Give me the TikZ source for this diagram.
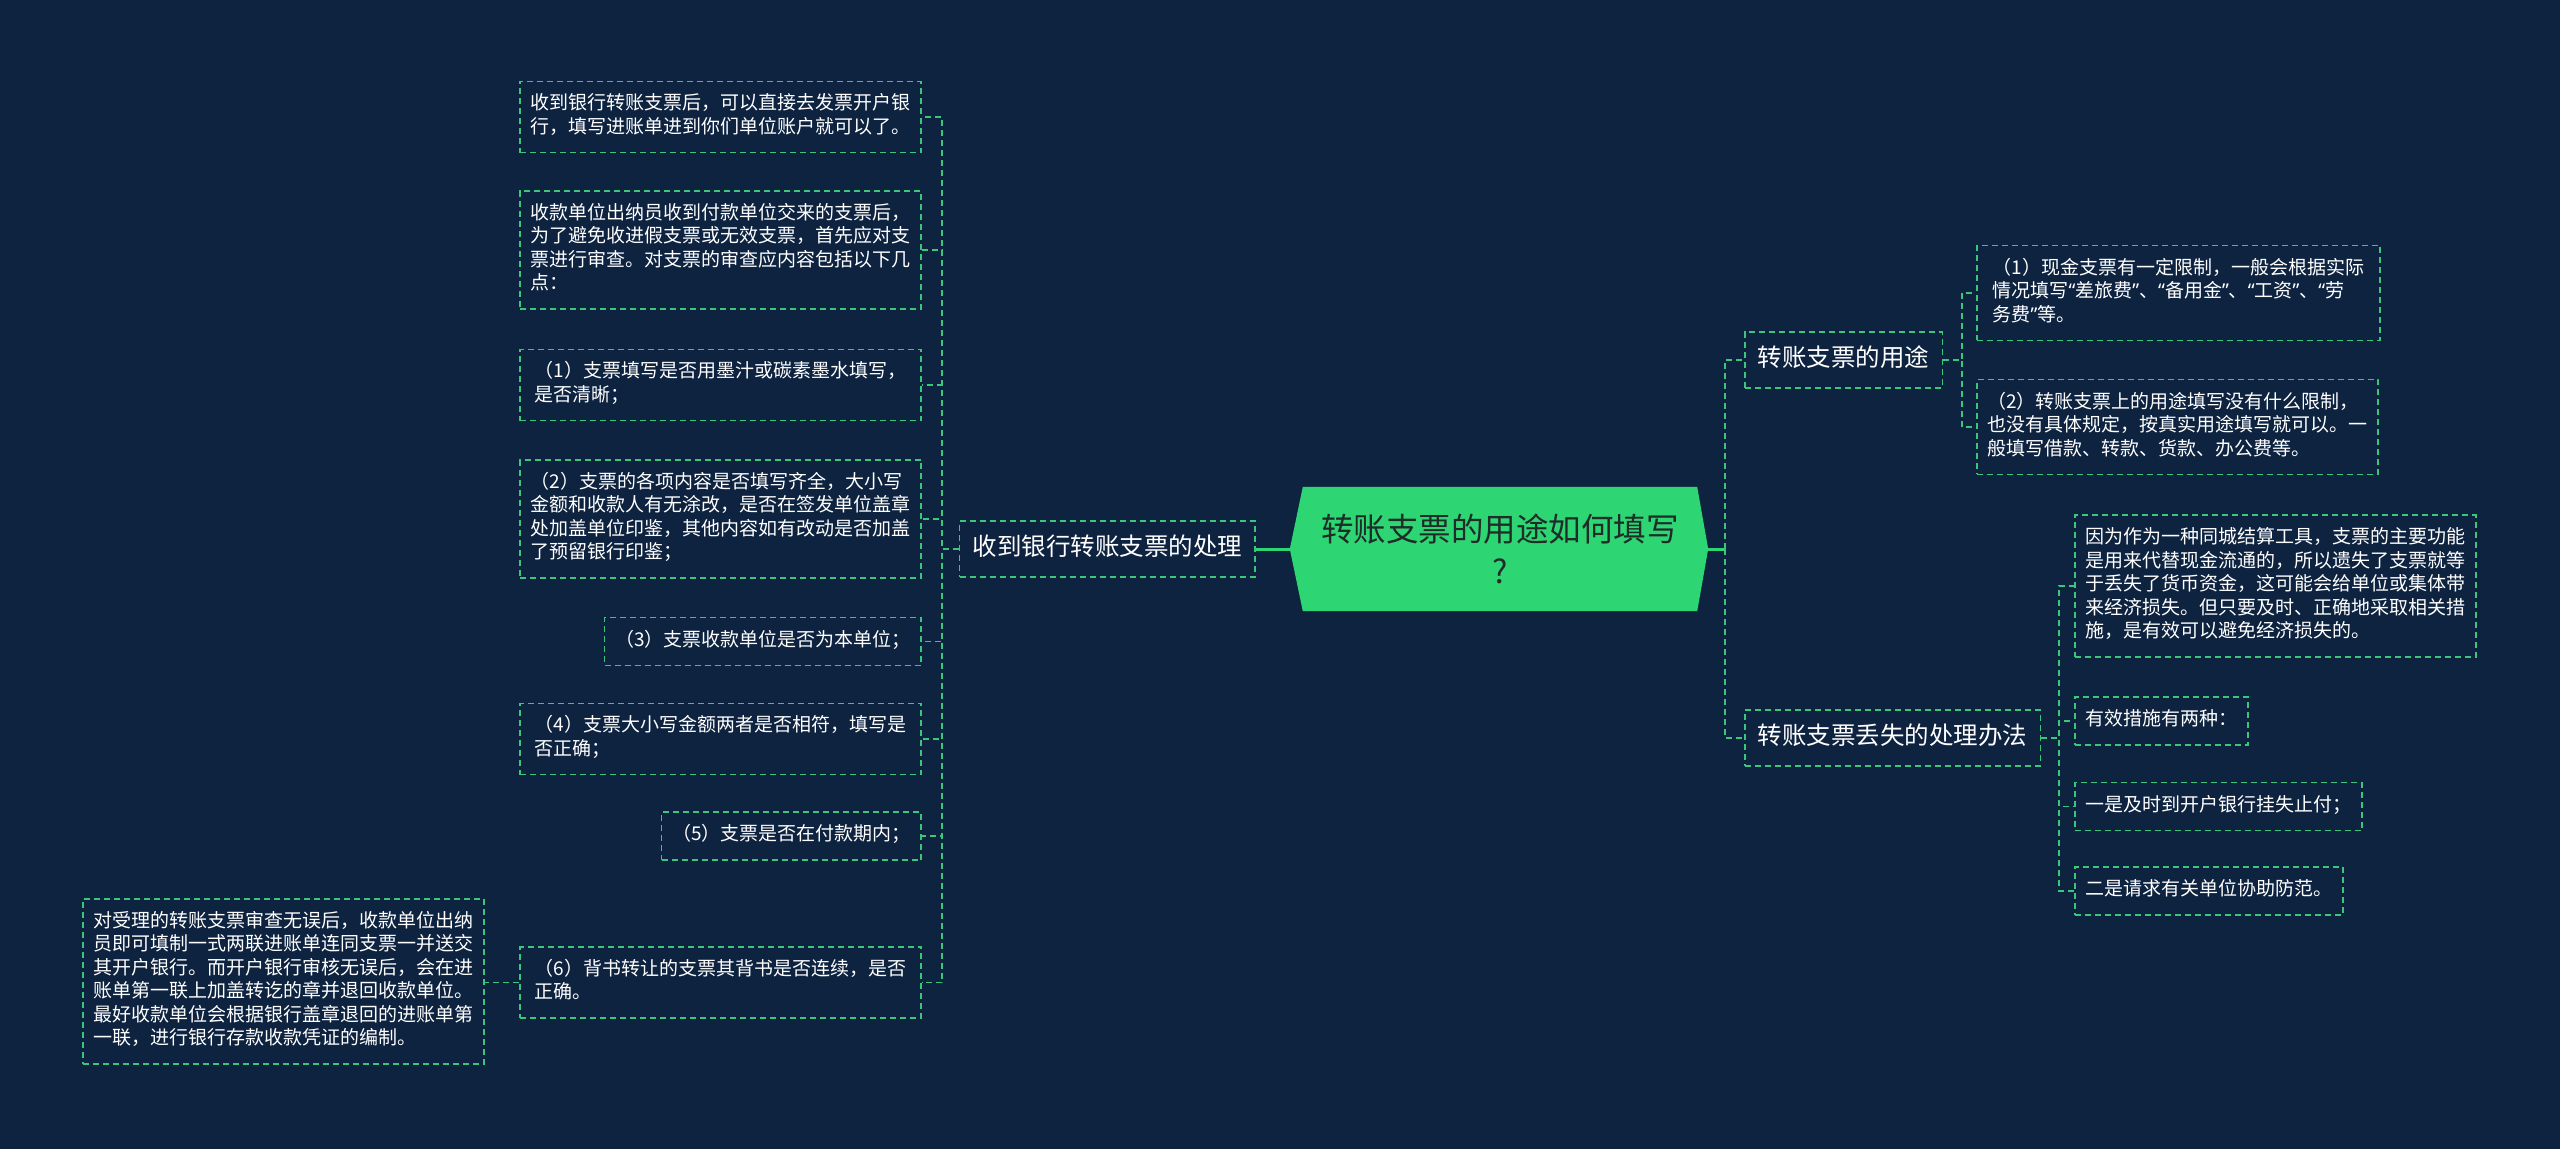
\documentclass[tikz,border=0pt]{standalone}
\usepackage{fontspec}
\newfontfamily\cjk{Noto Sans CJK SC}
\newfontfamily\quotefont{Noto Sans}
\newcommand\oq{{\quotefont “}}
\newcommand\cq{{\quotefont ”}}
\usepackage{tikz}
\usetikzlibrary{positioning,backgrounds}

\definecolor{navy}{RGB}{14,35,64}
\definecolor{leaf}{RGB}{58,199,121}
\definecolor{rootgreen}{RGB}{46,213,115}
\definecolor{rootink}{RGB}{30,45,40}

\begin{document}
\begin{tikzpicture}[x=1pt,y=-1pt,
    leafbox/.style={draw=leaf,line width=1.6pt,dash pattern=on 6pt off 4pt,
      text=white,font=\cjk\fontsize{19}{23.5}\selectfont,align=left,
      inner xsep=10.5pt,inner ysep=12.25pt,
      execute at begin node=\strut,execute at end node=\strut},
    widebox/.style={leafbox,minimum width=401pt},
    branchbox/.style={leafbox,font=\cjk\fontsize{24.5}{30}\selectfont,
      inner xsep=13pt,inner ysep=12.75pt},
    rootnode/.style={font=\cjk\fontsize{32.5}{42}\selectfont,text=rootink,
      align=center,minimum width=394pt,minimum height=124pt,inner sep=0pt},
    link/.style={leaf,line width=1.6pt,dash pattern=on 6pt off 4pt},
    stem/.style={rootgreen,line width=3pt}]
  \useasboundingbox (0,0) rectangle (2560,1149);

  % centre
  \node[rootnode] (root) at (1500,549) {转账支票的用途如何填写\\?};
  \coordinate (rootW) at ([xshift=-13pt]root.west);
  \coordinate (rootE) at ([xshift=11pt]root.east);
  \coordinate (rootbus) at ([xshift=17pt]rootE);

  % left branch
  \node[branchbox,left=47pt of root] (recv) {收到银行转账支票的处理};
  \node[leafbox,anchor=east] (recv1) at (922,117)
    {收到银行转账支票后，可以直接去发票开户银\\行，填写进账单进到你们单位账户就可以了。};
  \node[leafbox,anchor=east] (recv2) at (922,250)
    {收款单位出纳员收到付款单位交来的支票后，\\为了避免收进假支票或无效支票，首先应对支\\票进行审查。对支票的审查应内容包括以下几\\点：};
  \node[widebox,anchor=east] (recv3) at (922,385)
    {（1）支票填写是否用墨汁或碳素墨水填写，\\是否清晰；};
  \node[leafbox,anchor=east] (recv4) at (922,519)
    {（2）支票的各项内容是否填写齐全，大小写\\金额和收款人有无涂改，是否在签发单位盖章\\处加盖单位印鉴，其他内容如有改动是否加盖\\了预留银行印鉴；};
  \node[leafbox,anchor=east] (recv5) at (922,641.5) {（3）支票收款单位是否为本单位；};
  \node[widebox,anchor=east] (recv6) at (922,739)
    {（4）支票大小写金额两者是否相符，填写是\\否正确；};
  \node[leafbox,anchor=east] (recv7) at (922,836) {（5）支票是否在付款期内；};
  \node[widebox,anchor=east] (recv8) at (922,982.5)
    {（6）背书转让的支票其背书是否连续，是否\\正确。};
  \node[leafbox,anchor=east] (accept) at (485,981.5)
    {对受理的转账支票审查无误后，收款单位出纳\\员即可填制一式两联进账单连同支票一并送交\\其开户银行。而开户银行审核无误后，会在进\\账单第一联上加盖转讫的章并退回收款单位。\\最好收款单位会根据银行盖章退回的进账单第\\一联，进行银行存款收款凭证的编制。};

  % right branches
  \node[branchbox,anchor=west] (usage) at (1744,360) {转账支票的用途};
  \node[leafbox,anchor=west,minimum width=403pt] (usage1) at (1976,293)
    {（1）现金支票有一定限制，一般会根据实际\\情况填写\oq 差旅费\cq 、\oq 备用金\cq 、\oq 工资\cq 、\oq 劳\\务费\cq 等。};
  \node[leafbox,anchor=west] (usage2) at (1976,427)
    {（2）转账支票上的用途填写没有什么限制，\\也没有具体规定，按真实用途填写就可以。一\\般填写借款、转款、货款、办公费等。};

  \node[branchbox,anchor=west] (loss) at (1744,738) {转账支票丢失的处理办法};
  \node[leafbox,anchor=west] (loss1) at (2074,586)
    {因为作为一种同城结算工具，支票的主要功能\\是用来代替现金流通的，所以遗失了支票就等\\于丢失了货币资金，这可能会给单位或集体带\\来经济损失。但只要及时、正确地采取相关措\\施，是有效可以避免经济损失的。};
  \node[leafbox,anchor=west] (loss2) at (2074,721) {有效措施有两种：};
  \node[leafbox,anchor=west] (loss3) at (2074,806.5) {一是及时到开户银行挂失止付；};
  \node[leafbox,anchor=west] (loss4) at (2074,891) {二是请求有关单位协助防范。};

  % connectors
  \draw[stem] (rootW) -- (recv.east);
  \draw[stem] (rootE) -- (rootbus);
  \foreach \b in {usage,loss}
    \draw[link] (rootbus) |- (\b.west);
  \foreach \i in {1,...,8}
    \draw[link] (recv.west) -- ++(-16.5,0) |- (recv\i.east);
  \draw[link] (recv8.west) -- (recv8.west -| accept.east);
  \foreach \i in {1,2}
    \draw[link] (usage.east) -- ++(19,0) |- (usage\i.west);
  \foreach \i in {1,...,4}
    \draw[link] (loss.east) -- ++(18,0) |- (loss\i.west);

  \begin{scope}[on background layer]
    \fill[navy] (0,0) rectangle (2560,1149);
    \fill[rootgreen] (root.north west) -- (root.north east) -- (rootE)
      -- (root.south east) -- (root.south west) -- (rootW) -- cycle;
  \end{scope}
\end{tikzpicture}
\end{document}
